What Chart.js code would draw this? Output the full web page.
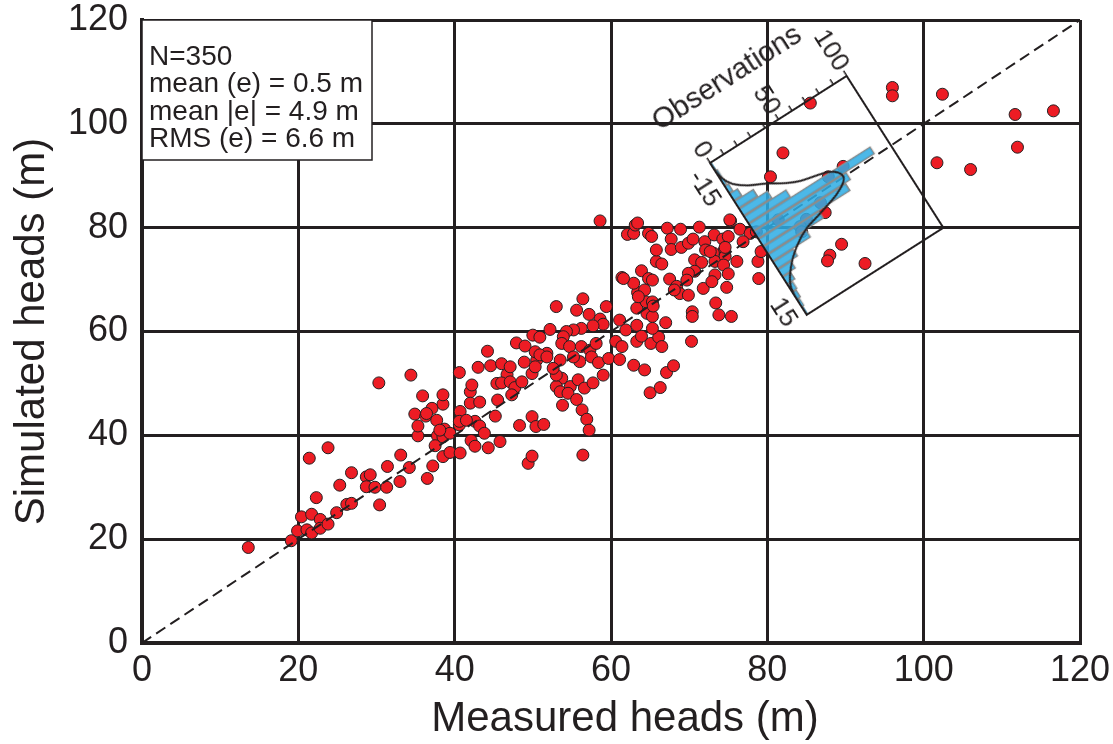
<!DOCTYPE html>
<html>
<head>
<meta charset="utf-8">
<script src="https://cdn.jsdelivr.net/npm/chart.js@4.4.0/dist/chart.umd.min.js"></script>
<style>
  body { margin: 0; background: #fff; overflow: hidden; }
  #wrap { position: relative; width: 1113px; height: 744px; }
  #main { position: absolute; left: 0; top: 0; }
  #hist { position: absolute; left: 620px; top: -19px; transform-origin: 90px 182px; transform: rotate(57.5deg); }
</style>
</head>
<body>
<div id="wrap">
  <canvas id="main" width="1113" height="744"></canvas>
  <canvas id="hist" width="300" height="230"></canvas>
</div>
<script>
// Scatter data: measured vs simulated heads (m)
const measuredHeads = [
  13.6, 19.1, 19.9, 20.4, 21.7, 21.4, 23.8, 22.3, 21.1, 21.7, 22.8, 22.8, 23.8, 24.9, 25.3, 26.2, 26.8, 26.8, 28.7, 29.2,
  28.7, 29.8, 30.4, 31.3, 31.4, 33.0, 33.1, 34.2, 36.5, 37.2, 38.5, 35.3, 35.3, 34.9, 36.3, 37.7, 37.8, 38.5, 39.4, 40.7,
  40.6, 40.7, 38.5, 30.3, 34.4, 40.6, 35.9, 38.5, 37.1, 36.4, 38.7, 37.5,
  58.6, 42.0, 42.2, 42.0, 43.2, 40.6, 42.6, 43.2, 43.8, 42.1, 42.6, 44.3, 45.8, 45.2, 45.5, 43.0, 44.2, 44.6, 46.0, 46.7,
  45.4, 46.0, 47.1, 47.7, 48.6, 47.3, 48.3, 49.4, 49.9, 49.9, 50.4, 51.4, 47.9, 49.0, 48.9, 50.0, 50.9, 52.2, 51.8, 50.5,
  53.0, 55.6, 56.4, 57.2, 59.4, 58.6, 59.0, 57.7, 56.2, 55.2, 54.3, 53.9, 53.7, 54.7, 56.2, 57.3, 58.1, 57.5, 58.4, 59.7,
  56.0, 53.5, 53.7, 54.8, 53.0, 53.5, 54.5, 55.8, 56.6, 57.7, 59.0, 55.6, 53.8, 56.3, 56.9, 57.2, 56.4, 60.6, 61.1, 61.4,
  61.1, 61.9, 62.9, 64.3, 65.0, 66.3, 67.1, 68.0, 63.3, 63.9, 65.1, 66.1, 66.5, 63.3, 63.3, 64.6, 65.3, 65.3, 67.0, 64.5,
  63.4, 64.3, 61.4, 62.9, 63.9, 64.8, 65.3, 65.8, 66.5, 67.5, 68.4, 68.8, 69.9, 70.4, 70.4, 70.3, 65.8, 64.8, 62.1, 62.9,
  63.1, 63.4, 67.2, 68.9, 71.3, 75.3, 67.7, 67.7, 69.0, 69.9, 70.5, 72.0, 72.1, 73.2, 74.3, 75.0, 76.5, 74.5, 73.1, 70.7,
  71.6, 73.3, 74.6, 76.1, 74.4, 73.3, 75.0, 70.7, 71.8, 72.9, 74.8, 73.4, 73.8, 75.4, 78.8, 78.9, 79.2, 77.8, 68.1,
  50.3, 50.9, 51.8, 55.2, 53.0, 47.1, 41.5, 39.4, 38.1, 65.3, 65.4, 63.5, 61.6, 65.2, 69.9, 69.7,
  75.2, 76.9, 72.7, 74.6, 96.0, 96.0, 102.4, 111.7, 116.6, 112.0, 101.7, 106.0, 85.5, 82.0, 87.4, 89.5, 88.0, 87.7, 92.5, 80.4,
  87.8, 89.7, 86.8, 85.0, 84.2, 81.4, 78.6, 84.4, 49.9, 50.3, 52.6
];
const simulatedHeads = [
  18.4, 19.7, 21.6, 24.3, 24.8, 35.6, 37.6, 28.0, 21.8, 21.2, 23.8, 22.1, 22.9, 25.1, 30.4, 26.7, 26.9, 32.8, 32.0, 32.4,
  30.1, 30.0, 26.6, 30.0, 34.0, 31.1, 36.2, 33.8, 31.7, 34.1, 35.9, 39.9, 41.8, 44.1, 43.7, 42.9, 39.9, 39.7, 36.7, 36.6,
  42.0, 44.6, 46.0, 50.1, 51.6, 52.1, 47.6, 47.8, 45.2, 44.2, 41.2, 38.0,
  81.3, 48.4, 49.7, 46.2, 46.4, 42.7, 42.7, 41.8, 40.4, 39.0, 37.9, 37.6, 38.8, 43.7, 46.8, 53.1, 56.2, 53.4, 53.8, 51.7,
  50.0, 50.1, 50.3, 49.2, 50.3, 47.8, 41.9, 34.6, 36.0, 43.6, 41.7, 42.1, 57.8, 57.2, 54.1, 59.3, 58.9, 60.4, 55.8, 54.5,
  64.8, 64.1, 66.3, 63.3, 64.8, 62.4, 61.4, 61.1, 60.6, 60.3, 60.0, 59.0, 57.7, 57.1, 57.1, 56.4, 57.7, 55.1, 54.0, 54.8,
  54.2, 54.5, 51.0, 49.4, 49.4, 48.4, 48.1, 50.7, 49.1, 50.1, 51.6, 46.9, 45.8, 44.9, 43.1, 41.0, 36.2, 58.1, 62.2, 57.1,
  54.6, 60.3, 53.5, 52.6, 48.2, 49.2, 52.1, 53.4, 58.1, 59.1, 57.7, 58.9, 57.1, 61.2, 64.5, 63.5, 62.9, 60.6, 61.7, 65.7,
  67.5, 68.0, 70.4, 69.3, 71.7, 70.2, 69.9, 73.5, 73.0, 70.1, 68.7, 67.3, 67.0, 63.8, 62.9, 58.1, 75.7, 78.9, 78.7, 78.9,
  80.5, 80.9, 79.9, 79.7, 80.1, 81.3, 77.8, 75.8, 76.2, 77.0, 77.8, 77.3, 75.7, 78.6, 77.8, 78.3, 79.7, 75.7, 75.1, 73.8,
  73.3, 73.5, 74.5, 73.5, 72.8, 70.9, 71.1, 71.6, 68.3, 69.6, 68.5, 65.5, 63.2, 62.9, 73.5, 70.2, 75.4, 78.9, 68.0,
  56.1, 55.5, 55.1, 55.1, 51.6, 53.2, 42.9, 40.4, 41.0, 65.7, 64.9, 66.7, 70.2, 78.3, 71.2, 69.9,
  81.5, 77.3, 75.4, 76.2, 107.0, 105.4, 105.7, 101.8, 102.5, 95.5, 92.5, 91.2, 104.0, 94.4, 82.9, 76.8, 74.7, 73.6, 73.1, 89.8,
  89.8, 91.8, 84.8, 81.6, 80.2, 81.5, 79.2, 79.2, 51.9, 53.2, 52.9
];
const oneToOne = [0, 120];
const axisTicks = [0, 20, 40, 60, 80, 100, 120];
const xTitle = 'Measured heads (m)';
const yTitle = 'Simulated heads (m)';
const statsLines = ['N=350', 'mean (e) = 0.5 m', 'mean |e| = 4.9 m', 'RMS (e) = 6.6 m'];

// Inset histogram of residuals e (m)
const binCenters = [-14.25, -12.75, -11.25, -9.75, -8.25, -6.75, -5.25, -3.75, -2.25, -0.75,
                    0.75, 2.25, 3.75, 5.25, 6.75, 8.25, 9.75, 11.25, 12.75, 14.25];
const binCounts = [1, 2, 2, 3, 6, 14, 21, 31, 89, 68, 64, 41, 28, 15, 10, 6, 4, 3, 2, 1];
const curveErr = [-14.5, -12, -10, -8.5, -7, -5.5, -4.4, -3.2, -1.2, 0.7, 2, 2.8, 4.6, 6.9, 9.7, 13];
const curveCount = [0, 1, 5, 12, 23, 32, 41, 58, 65, 56, 40, 29, 17, 7.5, 1, 0];
const errTicks = [-15, 15];
const obsTicksLabelled = [0, 50, 100];

const INK = '#231f20';
const FONT = '"Liberation Sans", Arial, Helvetica, sans-serif';
Chart.defaults.font.family = FONT;
Chart.defaults.color = INK;

// keep tick labels from pushing the plot area around
function noLabelPadding(s) {
  s.paddingTop = 0; s.paddingBottom = 0; s.paddingLeft = 0; s.paddingRight = 0;
}

const statsBox = {
  id: 'statsBox',
  afterDraw(chart) {
    const { ctx, chartArea } = chart;
    ctx.save();
    ctx.fillStyle = '#fff';
    ctx.strokeStyle = INK;
    ctx.lineWidth = 1.5;
    ctx.fillRect(chartArea.left, chartArea.top, 230, 140);
    ctx.strokeRect(chartArea.left, chartArea.top, 230, 140);
    ctx.fillStyle = INK;
    ctx.font = '28px ' + FONT;
    ctx.textBaseline = 'alphabetic';
    statsLines.forEach((t, i) => ctx.fillText(t, chartArea.left + 7, chartArea.top + 45 + i * 27.3));
    ctx.restore();
  }
};

// x title sits a little right of the axis centre in the original
const xAxisTitle = {
  id: 'xAxisTitle',
  afterDraw(chart) {
    const { ctx, chartArea } = chart;
    ctx.save();
    ctx.fillStyle = INK;
    ctx.font = '42px ' + FONT;
    ctx.textAlign = 'center';
    ctx.textBaseline = 'middle';
    ctx.fillText(xTitle, (chartArea.left + chartArea.right) / 2 + 14, 719);
    ctx.restore();
  }
};

new Chart(document.getElementById('main'), {
  type: 'scatter',
  data: {
    datasets: [
      {
        type: 'line',
        data: oneToOne.map(v => ({ x: v, y: v })),
        borderColor: INK,
        borderWidth: 2,
        borderDash: [11, 6],
        pointRadius: 0,
        order: 0
      },
      {
        data: measuredHeads.map((x, i) => ({ x: x, y: simulatedHeads[i] })),
        backgroundColor: '#ed1c24',
        borderColor: INK,
        borderWidth: 1,
        pointRadius: 6,
        order: 1
      }
    ]
  },
  options: {
    responsive: false,
    animation: false,
    events: [],
    layout: { padding: { left: 0, right: 33, top: 20, bottom: 0 } },
    plugins: { legend: { display: false }, tooltip: { enabled: false } },
    scales: {
      x: {
        type: 'linear', min: 0, max: 120,
        afterBuildTicks: s => { s.ticks = axisTicks.map(v => ({ value: v })); },
        ticks: { font: { size: 36 }, padding: 6, maxRotation: 0 },
        grid: { color: INK, lineWidth: 3, drawTicks: false },
        border: { color: INK, width: 4 },
        afterFit: s => { s.height = 101; noLabelPadding(s); }
      },
      y: {
        type: 'linear', min: 0, max: 120,
        afterBuildTicks: s => { s.ticks = axisTicks.map(v => ({ value: v })); },
        ticks: { font: { size: 36 }, padding: 14 },
        grid: { color: INK, lineWidth: 3, drawTicks: false },
        border: { color: INK, width: 4 },
        title: { display: true, text: yTitle, font: { size: 42 }, padding: { top: 7, bottom: 0 } },
        afterFit: s => { s.width = 142; noLabelPadding(s); }
      }
    }
  },
  plugins: [statsBox, xAxisTitle]
});

// frame around the inset plot area and its axis title
const insetFrame = {
  id: 'insetFrame',
  afterDraw(chart) {
    const { ctx, chartArea, scales } = chart;
    ctx.save();
    ctx.strokeStyle = INK;
    ctx.lineWidth = 2;
    ctx.strokeRect(chartArea.left, chartArea.top, chartArea.right - chartArea.left, chartArea.bottom - chartArea.top);
    ctx.translate(chartArea.left - 62, scales.y.getPixelForValue(37));
    ctx.rotate(-Math.PI / 2);
    ctx.fillStyle = INK;
    ctx.font = '29px ' + FONT;
    ctx.textAlign = 'center';
    ctx.textBaseline = 'middle';
    ctx.fillText('Observations', 0, 0);
    ctx.restore();
  }
};

new Chart(document.getElementById('hist'), {
  type: 'bar',
  data: {
    datasets: [
      {
        type: 'bar',
        data: binCenters.map((x, i) => ({ x: x, y: binCounts[i] })),
        backgroundColor: 'rgba(45,172,228,0.85)',
        borderColor: '#8c8c8c',
        borderWidth: 1.5,
        barPercentage: 1,
        categoryPercentage: 1,
        order: 1
      },
      {
        type: 'line',
        data: curveErr.map((x, i) => ({ x: x, y: curveCount[i] })),
        borderColor: INK,
        borderWidth: 2,
        pointRadius: 0,
        cubicInterpolationMode: 'monotone',
        order: 0
      }
    ]
  },
  options: {
    responsive: false,
    animation: false,
    events: [],
    layout: { padding: { left: 0, right: 30, top: 20, bottom: 8 } },
    plugins: { legend: { display: false }, tooltip: { enabled: false } },
    scales: {
      x: {
        type: 'linear', min: -15, max: 15, offset: false,
        afterBuildTicks: s => { s.ticks = errTicks.map(v => ({ value: v })); },
        ticks: { align: 'inner', padding: 3, font: { size: 26 }, maxRotation: 0 },
        grid: { display: false, offset: false, drawTicks: false },
        border: { display: false },
        afterFit: s => { s.height = 40; noLabelPadding(s); }
      },
      y: {
        min: 0, max: 100,
        ticks: { stepSize: 10, padding: 2, autoSkip: false, font: { size: 26 },
                 callback: v => obsTicksLabelled.includes(v) ? String(v) : '' },
        grid: { drawOnChartArea: false, drawTicks: true, tickLength: 6, color: INK, lineWidth: 1.5 },
        border: { display: false },
        afterFit: s => { s.width = 90; noLabelPadding(s); }
      }
    }
  },
  plugins: [insetFrame]
});
</script>
</body>
</html>
